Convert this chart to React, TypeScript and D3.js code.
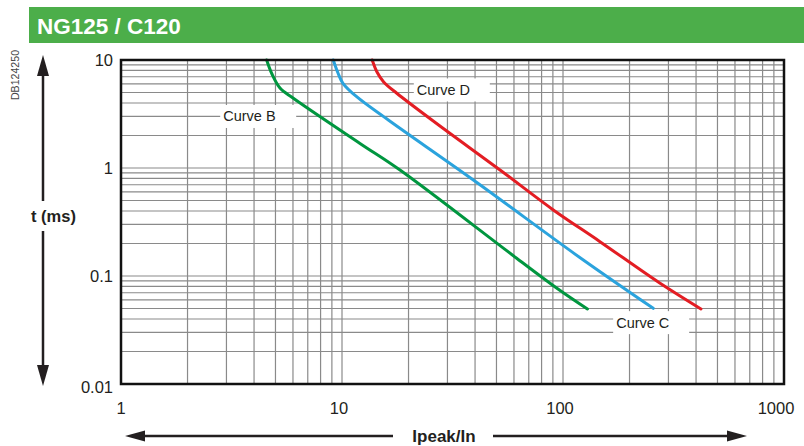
import React from "react"
import * as d3 from "d3"

// current ratio Ipeak/In vs time t (ms)
const curveB: [number, number][] = [
  [4.56, 10], [4.82, 7.42], [5.24, 5.51], [6.0, 4.45], [12.06, 1.69], [18.3, 0.958],
  [61.7, 0.146], [94.9, 0.0758], [129, 0.0495],
]
const curveC: [number, number][] = [
  [9.13, 10], [9.59, 7.58], [10.1, 6.09], [11.65, 4.57], [16.2, 2.78], [39.3, 0.774],
  [123.6, 0.1406], [256, 0.0502],
]
const curveD: [number, number][] = [
  [13.7, 10], [14.4, 7.74], [15.4, 6.3], [17.7, 4.92], [26.6, 2.61], [51.9, 0.958],
  [90.4, 0.409], [147, 0.208], [275, 0.0856], [421, 0.0495],
]

const xTicks = [1, 10, 100, 1000]
const xTickLabels = ["1", "10", "100", "1000"]
const yTicks = [0.01, 0.1, 1, 10]
const yTickLabels = ["0.01", "0.1", "1", "10"]

const labels = [
  { name: "Curve B", at: [2.9, 3.0] },
  { name: "Curve D", at: [21.8, 5.28] },
  { name: "Curve C", at: [174, 0.037] },
]

const series = [
  { data: curveB, color: "#00963f" },
  { data: curveC, color: "#2ba3dd" },
  { data: curveD, color: "#e31d23" },
]

const W = 804
const H = 446
const margin = { top: 60, right: 20, bottom: 62, left: 121 }
const font = "Arial, 'Liberation Sans', sans-serif"
const ink = "#231f20"

export default function App() {
  const x = d3.scaleLog().domain([1, 1000]).range([margin.left, W - margin.right])
  const y = d3.scaleLog().domain([0.01, 10]).range([H - margin.bottom, margin.top])

  const line = d3
    .line<[number, number]>()
    .x(d => x(d[0]))
    .y(d => y(d[1]))
    .curve(d3.curveCatmullRom.alpha(0.5))

  const gridX = x.ticks()
  const gridY = y.ticks()
  const [x0, x1] = x.range()
  const [y0, y1] = [y(10), y(0.01)]

  const axisX = 43
  const arrowY = 436

  return (
    <svg
      width={W}
      height={H}
      style={{ position: "absolute", left: 0, top: 0, background: "#fff" }}
      fontFamily={font}
    >
      {/* header */}
      <rect x={29} y={7} width={W - 29} height={36} fill="#4cae4a" />
      <text x={37} y={33.5} fill="#fff" fontSize={22.5} fontWeight="bold">
        NG125 / C120
      </text>

      <text
        transform={`translate(19,75) rotate(-90)`}
        textAnchor="middle"
        fontSize={10.6}
        fill="#444"
      >
        DB124250
      </text>

      {/* grid */}
      <g stroke="#8a8a8a" strokeWidth={1.2}>
        {gridX.map((v, i) => (
          <line key={"gx" + i} x1={x(v)} x2={x(v)} y1={y0} y2={y1} />
        ))}
        {gridY.map((v, i) => (
          <line key={"gy" + i} x1={x0} x2={x1} y1={y(v)} y2={y(v)} />
        ))}
      </g>

      {/* label boxes */}
      {labels.map(l => {
        const lx = x(l.at[0])
        const ly = y(l.at[1])
        return (
          <g key={l.name}>
            <rect x={lx - 3} y={ly - 11.5} width={76} height={23} fill="#fff" />
            <text x={lx} y={ly + 5} fontSize={14.5} fill={ink}>
              {l.name}
            </text>
          </g>
        )
      })}

      {/* curves */}
      {series.map((s, i) => (
        <path
          key={i}
          d={line(s.data) || ""}
          fill="none"
          stroke={s.color}
          strokeWidth={3}
          strokeLinecap="round"
        />
      ))}

      <rect
        x={x0}
        y={y0}
        width={x1 - x0}
        height={y1 - y0}
        fill="none"
        stroke="#111"
        strokeWidth={2.5}
      />

      {/* tick labels */}
      {yTicks.map((v, i) => (
        <text
          key={"yt" + i}
          x={x0 - 8}
          y={y(v) + (i === 0 ? 9 : 6)}
          textAnchor="end"
          fontSize={16.5}
          fill={ink}
        >
          {yTickLabels[i]}
        </text>
      ))}
      {xTicks.map((v, i) => (
        <text
          key={"xt" + i}
          x={x(v) + (i === xTicks.length - 1 ? -8 : i === 0 ? 0 : -3)}
          y={414}
          textAnchor="middle"
          fontSize={16.5}
          fill={ink}
        >
          {xTickLabels[i]}
        </text>
      ))}

      {/* y axis arrow */}
      <g stroke={ink} strokeWidth={2.5}>
        <line x1={axisX} x2={axisX} y1={72} y2={201} />
        <line x1={axisX} x2={axisX} y1={231} y2={368} />
      </g>
      <polygon points={`${axisX},55 ${axisX - 6},76 ${axisX + 6},76`} fill={ink} />
      <polygon points={`${axisX},386 ${axisX - 6},365 ${axisX + 6},365`} fill={ink} />
      <text x={53.5} y={222} textAnchor="middle" fontSize={16.5} fontWeight="bold" fill={ink}>
        t (ms)
      </text>

      {/* x axis arrow */}
      <g stroke={ink} strokeWidth={2.5}>
        <line x1={140} x2={393} y1={arrowY} y2={arrowY} />
        <line x1={493} x2={732} y1={arrowY} y2={arrowY} />
      </g>
      <polygon points={`125,${arrowY} 145,${arrowY - 5.5} 145,${arrowY + 5.5}`} fill={ink} />
      <polygon points={`747,${arrowY} 727,${arrowY - 5.5} 727,${arrowY + 5.5}`} fill={ink} />
      <text x={444} y={442} textAnchor="middle" fontSize={17} fontWeight="bold" fill={ink}>
        Ipeak/In
      </text>
    </svg>
  )
}
